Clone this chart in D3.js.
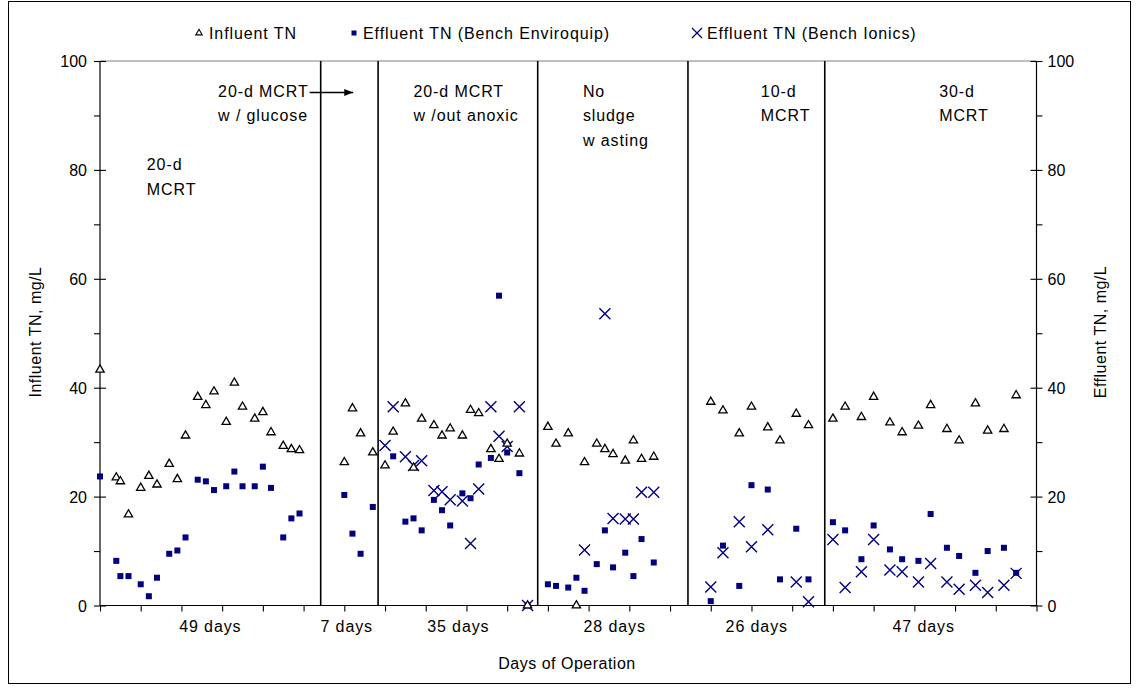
<!DOCTYPE html>
<html>
<head>
<meta charset="utf-8">
<script src="https://cdn.jsdelivr.net/npm/d3@7"></script>
<style>
  html, body { margin: 0; padding: 0; background: #fff; }
  svg text { font-family: "Liberation Sans", Arial, sans-serif; fill: #000; }
</style>
</head>
<body>
<svg id="chart" width="1139" height="691"></svg>
<script>
// Sampling day for each measurement
const days = [
  0, 4, 5, 7, 10, 12, 14, 17, 19, 21, 24, 26, 28, 31, 33, 35, 38, 40, 42, 45, 47, 49,
  60, 62, 64, 67,
  70, 72, 75, 77, 79, 82, 84, 86, 89, 91, 93, 96, 98, 100, 103, 105,
  110, 112, 115, 117, 119, 122, 124, 126, 129, 131, 133, 136,
  150, 153, 157, 160, 164, 167, 171, 174,
  180, 183, 187, 190, 194, 197, 201, 204, 208, 211, 215, 218, 222, 225
];

// Influent total nitrogen, mg/L
const influentTN = [
  43.3, 23.5, 22.8, 16.7, 21.6, 23.8, 22.2, 26.0, 23.2, 31.2, 38.3, 36.8, 39.3, 33.7, 40.9, 36.5, 34.3, 35.5, 31.8, 29.3, 28.7, 28.5,
  26.3, 36.2, 31.6, 28.1,
  25.7, 31.9, 37.1, 25.3, 34.3, 33.1, 31.2, 32.5, 31.2, 35.9, 35.3, 28.7, 26.9, 29.7, 27.9, 0,
  32.8, 29.7, 31.6, 0, 26.3, 29.7, 28.7, 27.8, 26.6, 30.3, 26.9, 27.3,
  37.4, 35.8, 31.6, 36.5, 32.7, 30.3, 35.2, 33.1,
  34.3, 36.5, 34.6, 38.3, 33.6, 31.8, 33.0, 36.8, 32.4, 30.3, 37.1, 32.1, 32.4, 38.6
];

// Effluent total nitrogen, Bench Enviroquip, mg/L
const effluentEnviroquip = [
  23.7, 8.2, 5.4, 5.4, 3.9, 1.7, 5.1, 9.5, 10.1, 12.5, 23.1, 22.8, 21.2, 21.9, 24.6, 21.9, 21.9, 25.5, 21.6, 12.5, 16.0, 16.9,
  20.3, 13.2, 9.5, 18.1,
  null, 27.4, 15.4, 16.0, 13.8, 19.4, 17.5, 14.7, 20.6, 19.7, 25.9, 27.1, 56.9, 28.1, 24.3, 0,
  3.9, 3.6, 3.3, 5.1, 2.7, 7.6, 13.8, 7.0, 9.7, 5.4, 12.2, 7.9,
  0.8, 11.0, 3.6, 22.1, 21.3, 4.8, 14.1, 4.8,
  15.3, 13.8, 8.5, 14.7, 10.3, 8.5, 8.2, 16.8, 10.6, 9.1, 6.0, 10.0, 10.6, 6.0
];

// Effluent total nitrogen, Bench Ionics, mg/L
const effluentIonics = [
  null, null, null, null, null, null, null, null, null, null, null, null, null, null, null, null, null, null, null, null, null, null,
  null, null, null, null,
  29.4, 36.5, 27.3, 25.7, 26.6, 21.1, 20.9, 19.4, 19.2, 11.4, 21.4, 36.5, 31.1, 29.2, 36.5, 0,
  null, null, null, null, 10.2, null, 53.6, 16.0, 15.9, 15.9, 20.8, 20.8,
  3.4, 9.7, 15.4, 10.8, 13.9, null, 4.3, 0.7,
  12.1, 3.3, 6.2, 12.1, 6.5, 6.2, 4.3, 7.7, 4.3, 3.0, 3.7, 2.4, 3.7, 5.9
];

// Operating phase boundaries (day) and their labels
const phaseBounds = [54.2, 68.3, 107.5, 144.4, 178];
const phaseDurations = ["49 days", "7 days", "35 days", "28 days", "26 days", "47 days"];
const phaseDurationAt = [27.1, 60.6, 88, 126.4, 161.3, 202.3];
const phaseNotes = [
  { at: 11.5, lines: ["20-d", "MCRT"], row: 3 },
  { at: 29, lines: ["20-d MCRT", "w / glucose"], row: 0, arrow: true },
  { at: 77, lines: ["20-d MCRT", "w /out anoxic"], row: 0 },
  { at: 118.6, lines: ["No", "sludge", "w asting"], row: 0 },
  { at: 162.3, lines: ["10-d", "MCRT"], row: 0 },
  { at: 206.1, lines: ["30-d", "MCRT"], row: 0 }
];

const yTicks = [0, 20, 40, 60, 80, 100];
const navy = "#000080";

const svg = d3.select("#chart");
const W = 1139, H = 691;
const m = { left: 100, right: 1036.5, top: 61, bottom: 605.5 };

const x = d3.scaleLinear().domain([0, 230]).range([m.left, m.right]);
const yL = d3.scaleLinear().domain([0, 100]).range([m.bottom, m.top]);
const yR = d3.scaleLinear().domain([0, 100]).range([m.bottom, m.top]);

// Chart frame
svg.append("rect")
  .attr("x", 8.5).attr("y", 1.5).attr("width", 1122).attr("height", 682)
  .attr("fill", "none").attr("stroke", "#000").attr("stroke-width", 1);

// Plot area top edge
svg.append("line")
  .attr("x1", m.left).attr("x2", m.right).attr("y1", m.top).attr("y2", m.top)
  .attr("stroke", "#808080").attr("stroke-width", 1.2);

// Axes
const gL = svg.append("g").attr("transform", `translate(${m.left},0)`);
gL.call(d3.axisLeft(yL).tickValues(d3.range(0, 101, 10)).tickSize(6).tickFormat(""));
gL.call(g => g.selectAll(".tick").filter(d => d % 20 === 0).select("line").attr("x2", -6).attr("x1", 6));
gL.selectAll(".tick").filter(d => d % 20 === 0).append("text")
  .attr("x", -13).attr("dy", "0.35em").attr("text-anchor", "end")
  .style("font-size", "16px").text(d => d);

const gR = svg.append("g").attr("transform", `translate(${m.right},0)`);
gR.call(d3.axisRight(yR).tickValues(d3.range(0, 101, 10)).tickSize(6).tickFormat(""));
gR.call(g => g.selectAll(".tick").filter(d => d % 20 === 0).select("line").attr("x1", -6).attr("x2", 6));
gR.selectAll(".tick").filter(d => d % 20 === 0).append("text")
  .attr("x", 11).attr("dy", "0.35em").attr("text-anchor", "start")
  .style("font-size", "16px").text(d => d);

const gX = svg.append("g").attr("transform", `translate(0,${m.bottom})`);
gX.call(d3.axisBottom(x).tickValues(d3.range(0, 231, 10)).tickSize(6).tickFormat(""));

svg.selectAll(".domain").attr("stroke", "#000").attr("stroke-width", 1.2);
svg.selectAll(".tick line").attr("stroke", "#000").attr("stroke-width", 1.1);
svg.selectAll("path.domain").attr("d", function () {
  const p = d3.select(this.parentNode).attr("transform");
  return null;
});
// Re-draw domains as plain lines without end caps
svg.selectAll("path.domain").remove();
svg.append("line").attr("x1", m.left).attr("x2", m.left).attr("y1", m.top).attr("y2", m.bottom).attr("stroke", "#000").attr("stroke-width", 1.2);
svg.append("line").attr("x1", m.right).attr("x2", m.right).attr("y1", m.top).attr("y2", m.bottom).attr("stroke", "#000").attr("stroke-width", 1.2);
svg.append("line").attr("x1", m.left).attr("x2", m.right).attr("y1", m.bottom).attr("y2", m.bottom).attr("stroke", "#000").attr("stroke-width", 1.2);

// Phase dividers
svg.append("g").selectAll("line").data(phaseBounds).join("line")
  .attr("x1", d => x(d)).attr("x2", d => x(d))
  .attr("y1", m.top).attr("y2", m.bottom)
  .attr("stroke", "#000").attr("stroke-width", 1.6);

// Phase notes
const noteTop = 96.5, lineGap = 24.5;
phaseNotes.forEach(n => {
  const t = svg.append("text").style("font-size", "16px").style("letter-spacing", "0.9px");
  n.lines.forEach((ln, i) => {
    t.append("tspan").attr("x", x(n.at)).attr("y", noteTop + (n.row * 24.5 + i * lineGap)).text(ln);
  });
});
// Arrow for the glucose phase
svg.append("defs").append("marker")
  .attr("id", "arrowHead").attr("viewBox", "0 0 10 10").attr("refX", 10).attr("refY", 5)
  .attr("markerWidth", 9).attr("markerHeight", 9).attr("markerUnits", "userSpaceOnUse")
  .attr("orient", "auto")
  .append("path").attr("d", "M0,1 L10,5 L0,9 Z").attr("fill", "#000");
svg.append("line")
  .attr("x1", x(51.5)).attr("x2", x(62.2)).attr("y1", 92.5).attr("y2", 92.5)
  .attr("stroke", "#000").attr("stroke-width", 1.3).attr("marker-end", "url(#arrowHead)");

// Phase durations under the axis
svg.append("g").selectAll("text").data(phaseDurations).join("text")
  .attr("x", (d, i) => x(phaseDurationAt[i])).attr("y", 632)
  .attr("text-anchor", "middle").style("font-size", "16px").style("letter-spacing", "0.9px")
  .text(d => d);

// Axis titles
svg.append("text").attr("transform", "translate(41,332) rotate(-90)")
  .attr("text-anchor", "middle").style("font-size", "16px").style("letter-spacing", "0.5px")
  .text("Influent TN, mg/L");
svg.append("text").attr("transform", "translate(1106,332) rotate(-90)")
  .attr("text-anchor", "middle").style("font-size", "16px").style("letter-spacing", "0.5px")
  .text("Effluent TN, mg/L");
svg.append("text").attr("x", 567).attr("y", 669)
  .attr("text-anchor", "middle").style("font-size", "16px").style("letter-spacing", "0.5px")
  .text("Days of Operation");

// Markers
const tri = d3.symbol().type(d3.symbolTriangle).size(30);
const xMark = 5.5;

const rows = days.map((d, i) => ({ day: d, inf: influentTN[i], env: effluentEnviroquip[i], ion: effluentIonics[i] }));

svg.append("g").selectAll("rect").data(rows.filter(r => r.env !== null)).join("rect")
  .attr("x", r => x(r.day) - 3).attr("y", r => yR(r.env) - 3)
  .attr("width", 6).attr("height", 6).attr("fill", navy);

svg.append("g").selectAll("path").data(rows.filter(r => r.ion !== null)).join("path")
  .attr("d", r => {
    const cx = x(r.day), cy = yR(r.ion);
    return `M${cx - xMark},${cy - xMark}L${cx + xMark},${cy + xMark}M${cx - xMark},${cy + xMark}L${cx + xMark},${cy - xMark}`;
  })
  .attr("stroke", navy).attr("stroke-width", 1.4).attr("fill", "none");

svg.append("g").selectAll("path").data(rows.filter(r => r.inf !== null)).join("path")
  .attr("d", tri)
  .attr("transform", r => `translate(${x(r.day)},${yL(r.inf)})`)
  .attr("fill", "#fff").attr("stroke", "#000").attr("stroke-width", 1.3);

// Legend
const legend = svg.append("g").style("font-size", "16px");
const legendItems = [
  { label: "Influent TN", kind: "tri", mx: 199, tx: 209 },
  { label: "Effluent TN (Bench Enviroquip)", kind: "sq", mx: 354, tx: 363 },
  { label: "Effluent TN (Bench Ionics)", kind: "x", mx: 697, tx: 707 }
];
const ly = 33;
legendItems.forEach(it => {
  if (it.kind === "tri") {
    legend.append("path").attr("d", d3.symbol().type(d3.symbolTriangle).size(18)())
      .attr("transform", `translate(${it.mx},${ly})`)
      .attr("fill", "#fff").attr("stroke", "#000").attr("stroke-width", 1.1);
  } else if (it.kind === "sq") {
    legend.append("rect").attr("x", it.mx - 2.5).attr("y", ly - 2.5).attr("width", 5).attr("height", 5).attr("fill", navy);
  } else {
    const s = 5;
    legend.append("path")
      .attr("d", `M${it.mx - s},${ly - s}L${it.mx + s},${ly + s}M${it.mx - s},${ly + s}L${it.mx + s},${ly - s}`)
      .attr("stroke", navy).attr("stroke-width", 1.3);
  }
  legend.append("text").attr("x", it.tx).attr("y", ly + 6).style("letter-spacing", "0.9px").text(it.label);
});
</script>
</body>
</html>
